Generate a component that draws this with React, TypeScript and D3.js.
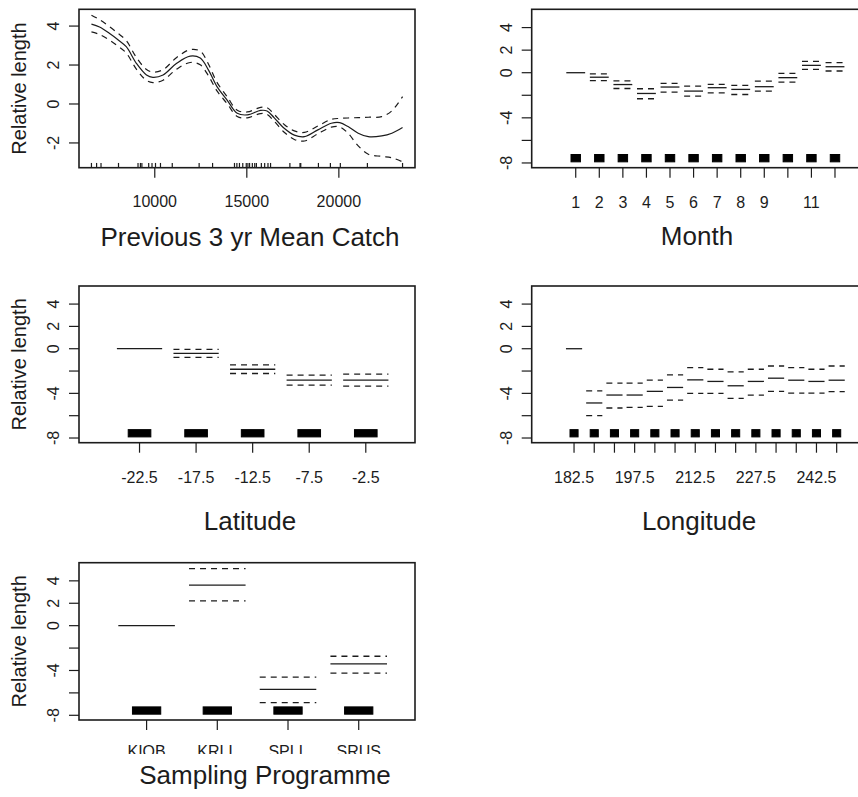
import React from "react";
import * as d3 from "d3";

const W = 858;
const H = 797;
const FONT = "'Liberation Sans', Arial, Helvetica, sans-serif";
const INK = "#1c1c1c";
const DASH = "6 5";

// ---- Previous 3 yr mean catch: smooth term with approximate 95% bands ----
const catchX = [6560, 7000, 7530, 8000, 8450, 9000, 9550, 9900, 10450, 11190, 11920, 12470, 12920, 13380, 13930, 14480, 15030, 15750, 16100, 16480, 17030, 17580, 18130, 18860, 19590, 20050, 20500, 21050, 21600, 22330, 22880, 23460];
const catchFit = [4.1, 3.95, 3.63, 3.3, 2.94, 2.09, 1.49, 1.37, 1.49, 2.09, 2.46, 2.36, 1.74, 0.89, 0.2, -0.48, -0.56, -0.33, -0.36, -0.7, -1.25, -1.6, -1.68, -1.33, -0.99, -0.96, -1.16, -1.5, -1.68, -1.64, -1.5, -1.21];
const catchUpper = [4.56, 4.33, 3.98, 3.63, 3.26, 2.39, 1.77, 1.64, 1.76, 2.39, 2.79, 2.71, 2.04, 1.11, 0.38, -0.32, -0.41, -0.17, -0.19, -0.52, -1.05, -1.38, -1.46, -1.13, -0.79, -0.74, -0.72, -0.7, -0.68, -0.65, -0.35, 0.38];
const catchLower = [3.7, 3.57, 3.28, 2.97, 2.62, 1.79, 1.21, 1.1, 1.22, 1.79, 2.13, 2.01, 1.44, 0.67, 0.02, -0.64, -0.71, -0.49, -0.53, -0.88, -1.45, -1.82, -1.9, -1.53, -1.19, -1.18, -1.5, -2.15, -2.58, -2.69, -2.76, -2.97];
const catchRug = [6560, 6840, 7080, 8030, 9090, 9220, 9300, 9670, 9850, 10040, 10310, 10950, 12410, 13140, 14330, 14460, 14600, 14780, 14970, 15060, 15150, 15300, 15430, 15520, 15790, 15970, 16150, 16290, 17340, 17890, 17930, 18890, 19540, 20080, 21550, 23460];
const catchXTicks = [10000, 15000, 20000];
const catchYTicks = [4, 2, 0, -2];

// ---- Factor terms ----
const monthLevels = ["1", "2", "3", "4", "5", "6", "7", "8", "9", "10", "11", "12"];
const monthShown = ["1", "2", "3", "4", "5", "6", "7", "8", "9", "11"];
const monthFit = [0, -0.4, -1.05, -1.84, -1.27, -1.63, -1.33, -1.48, -1.24, -0.44, 0.65, 0.53];
const monthUpper = [0, -0.1, -0.72, -1.42, -0.95, -1.19, -1.04, -1.13, -0.74, -0.06, 1.0, 0.89];
const monthLower = [0, -0.7, -1.4, -2.31, -1.72, -2.07, -1.78, -1.93, -1.63, -0.83, 0.3, 0.15];

const latLevels = ["-22.5", "-17.5", "-12.5", "-7.5", "-2.5"];
const latShown = ["-22.5", "-17.5", "-12.5", "-7.5", "-2.5"];
const latFit = [0, -0.42, -1.84, -2.81, -2.81];
const latUpper = [0, -0.05, -1.45, -2.37, -2.28];
const latLower = [0, -0.78, -2.22, -3.26, -3.35];

const lonLevels = ["182.5", "187.5", "192.5", "197.5", "202.5", "207.5", "212.5", "217.5", "222.5", "227.5", "232.5", "237.5", "242.5", "247.5"];
const lonShown = ["182.5", "197.5", "212.5", "227.5", "242.5"];
const lonFit = [0, -4.86, -4.15, -4.15, -3.82, -3.47, -2.79, -2.93, -3.32, -2.93, -2.64, -2.82, -2.93, -2.82];
const lonUpper = [0, -3.77, -3.08, -3.08, -2.82, -2.35, -1.69, -1.84, -2.08, -1.84, -1.55, -1.69, -1.84, -1.55];
const lonLower = [0, -5.99, -5.31, -5.25, -5.16, -4.6, -4.0, -4.0, -4.44, -4.15, -3.82, -3.97, -3.97, -3.85];

const progLevels = ["KIOB", "KRLL", "SPLL", "SRUS"];
const progShown = ["KIOB", "KRLL", "SPLL", "SRUS"];
const progFit = [0, 3.61, -5.69, -3.41];
const progUpper = [0, 5.1, -4.59, -2.73];
const progLower = [0, 2.22, -6.87, -4.24];

const factorYLim: [number, number] = [-7.9, 5.1];
const factorYTicks = [4, 2, 0, -2, -4, -6, -8];
const factorYShown = [4, 2, 0, -4, -8];

type Box = { left: number; top: number; right: number; bottom: number };

function pad(r: [number, number], f = 0.04): [number, number] {
  const d = (r[1] - r[0]) * f;
  return [r[0] - d, r[1] + d];
}

// termplot-style x range for a factor term, with room for the rug
function factorXDomain(n: number): [number, number] {
  let lo = 0.5;
  let hi = n + 0.5;
  const span = hi - lo;
  lo -= 0.07 * span;
  hi += 0.03 * span;
  return pad([lo, hi]);
}

function YAxis({ box, y, ticks, shown }: { box: Box; y: d3.ScaleLinear<number, number>; ticks: number[]; shown: number[] }) {
  return (
    <g>
      {ticks.map((t) => (
        <line key={"t" + t} x1={box.left - 10} x2={box.left} y1={y(t)} y2={y(t)} stroke={INK} strokeWidth={1.2} />
      ))}
      {ticks
        .filter((t) => shown.includes(t))
        .map((t) => (
          <text
            key={"l" + t}
            transform={`translate(${box.left - 20},${y(t)}) rotate(-90)`}
            textAnchor="middle"
            fontSize={16}
            fontFamily={FONT}
            fill={INK}
          >
            {t}
          </text>
        ))}
    </g>
  );
}

function Frame({ box }: { box: Box }) {
  return (
    <rect
      x={box.left}
      y={box.top}
      width={box.right - box.left}
      height={box.bottom - box.top}
      fill="none"
      stroke={INK}
      strokeWidth={1.6}
    />
  );
}

function YLab({ box }: { box: Box }) {
  const cy = (box.top + box.bottom) / 2;
  return (
    <text transform={`translate(26,${cy}) rotate(-90)`} textAnchor="middle" fontSize={20} fontFamily={FONT} fill={INK}>
      Relative length
    </text>
  );
}

function Title({ text, x, y }: { text: string; x: number; y: number }) {
  return (
    <text x={x} y={y} textAnchor="middle" fontSize={26} fontFamily={FONT} fill={INK}>
      {text}
    </text>
  );
}

function CatchPanel({ box }: { box: Box }) {
  const x = d3.scaleLinear().domain(pad(d3.extent(catchX) as [number, number])).range([box.left, box.right]);
  const y = d3
    .scaleLinear()
    .domain(pad([d3.min(catchLower) as number, d3.max(catchUpper) as number]))
    .range([box.bottom, box.top]);
  const mk = (vals: number[]) =>
    d3
      .line<number>()
      .x((_, i) => x(catchX[i]))
      .y((v) => y(v))
      .curve(d3.curveCatmullRom.alpha(0.5))(vals) as string;
  const rugLen = 0.03 * (box.bottom - box.top);
  return (
    <g>
      <path d={mk(catchFit)} fill="none" stroke={INK} strokeWidth={1.2} />
      <path d={mk(catchUpper)} fill="none" stroke={INK} strokeWidth={1.2} strokeDasharray={DASH} />
      <path d={mk(catchLower)} fill="none" stroke={INK} strokeWidth={1.2} strokeDasharray={DASH} />
      {catchRug.map((r, i) => (
        <line key={i} x1={x(r)} x2={x(r)} y1={box.bottom} y2={box.bottom - rugLen} stroke={INK} strokeWidth={1.2} />
      ))}
      {catchXTicks.map((t) => (
        <g key={t}>
          <line x1={x(t)} x2={x(t)} y1={box.bottom} y2={box.bottom + 10} stroke={INK} strokeWidth={1.2} />
          <text x={x(t)} y={box.bottom + 39} textAnchor="middle" fontSize={16} fontFamily={FONT} fill={INK}>
            {t}
          </text>
        </g>
      ))}
      <YAxis box={box} y={y} ticks={catchYTicks} shown={catchYTicks} />
      <Frame box={box} />
    </g>
  );
}

function FactorPanel({
  box,
  levels,
  shown,
  fit,
  upper,
  lower,
  labelClip,
  labelDy = 40,
}: {
  box: Box;
  levels: string[];
  shown: string[];
  fit: number[];
  upper: number[];
  lower: number[];
  labelClip?: string;
  labelDy?: number;
}) {
  const x = d3.scaleLinear().domain(factorXDomain(levels.length)).range([box.left, box.right]);
  const y = d3.scaleLinear().domain(pad(factorYLim)).range([box.bottom, box.top]);
  const rugTop = factorYLim[0] + 0.05 * (factorYLim[1] - factorYLim[0]);
  return (
    <g>
      {levels.map((lv, i) => {
        const j = i + 1;
        return (
          <g key={lv}>
            <line x1={x(j - 0.4)} x2={x(j + 0.4)} y1={y(fit[i])} y2={y(fit[i])} stroke={INK} strokeWidth={1.3} />
            {i > 0 && (
              <>
                <line x1={x(j - 0.4)} x2={x(j + 0.4)} y1={y(upper[i])} y2={y(upper[i])} stroke={INK} strokeWidth={1.3} strokeDasharray={DASH} />
                <line x1={x(j - 0.4)} x2={x(j + 0.4)} y1={y(lower[i])} y2={y(lower[i])} stroke={INK} strokeWidth={1.3} strokeDasharray={DASH} />
              </>
            )}
            {/* jittered rug for this level, merged into a block */}
            <rect
              x={x(j - 0.2)}
              y={y(rugTop)}
              width={x(j + 0.2) - x(j - 0.2)}
              height={y(factorYLim[0]) - y(rugTop)}
              fill="#000"
              stroke="#000"
              strokeWidth={1}
            />
            <line x1={x(j)} x2={x(j)} y1={box.bottom} y2={box.bottom + 10} stroke={INK} strokeWidth={1.2} />
          </g>
        );
      })}
      <g clipPath={labelClip ? `url(#${labelClip})` : undefined}>
        {levels.map((lv, i) =>
          shown.includes(lv) ? (
            <text key={lv} x={x(i + 1)} y={box.bottom + labelDy} textAnchor="middle" fontSize={16} fontFamily={FONT} fill={INK}>
              {lv}
            </text>
          ) : null
        )}
      </g>
      <YAxis box={box} y={y} ticks={factorYTicks} shown={factorYShown} />
      <Frame box={box} />
    </g>
  );
}

export default function App() {
  const p1: Box = { left: 79, top: 9.3, right: 415, bottom: 167.7 };
  const p2: Box = { left: 531.7, top: 9.3, right: 867.7, bottom: 167.7 };
  const p3: Box = { left: 79, top: 286, right: 415, bottom: 442.7 };
  const p4: Box = { left: 531.7, top: 286, right: 867.7, bottom: 442.7 };
  const p5: Box = { left: 79, top: 562.7, right: 415, bottom: 720 };
  return (
    <svg
      width={W}
      height={H}
      viewBox={`0 0 ${W} ${H}`}
      style={{ position: "absolute", left: 0, top: 0, display: "block", background: "#fff" }}
    >
      <defs>
        <clipPath id="progLabelClip">
          <rect x={0} y={0} width={W} height={754} />
        </clipPath>
      </defs>
      <rect x={0} y={0} width={W} height={H} fill="#fff" />

      <CatchPanel box={p1} />
      <YLab box={p1} />
      <Title text="Previous 3 yr Mean Catch" x={250} y={246} />

      <FactorPanel box={p2} levels={monthLevels} shown={monthShown} fit={monthFit} upper={monthUpper} lower={monthLower} />
      <Title text="Month" x={697} y={245} />

      <FactorPanel box={p3} levels={latLevels} shown={latShown} fit={latFit} upper={latUpper} lower={latLower} />
      <YLab box={p3} />
      <Title text="Latitude" x={250} y={530} />

      <FactorPanel box={p4} levels={lonLevels} shown={lonShown} fit={lonFit} upper={lonUpper} lower={lonLower} />
      <Title text="Longitude" x={699} y={530} />

      <FactorPanel
        box={p5}
        levels={progLevels}
        shown={progShown}
        fit={progFit}
        upper={progUpper}
        lower={progLower}
        labelClip="progLabelClip"
        labelDy={37}
      />
      <YLab box={p5} />
      <Title text="Sampling Programme" x={265} y={784} />
    </svg>
  );
}
